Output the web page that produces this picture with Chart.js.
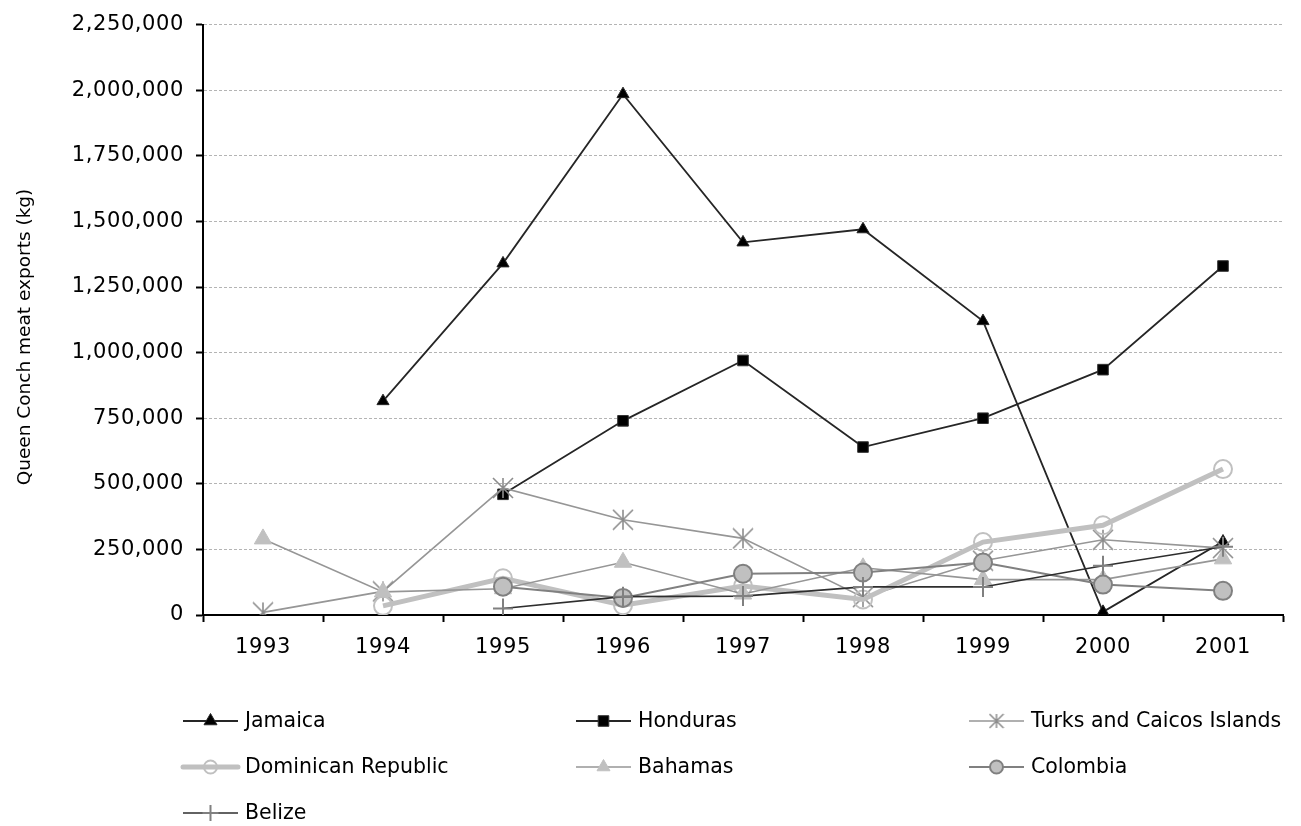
<!DOCTYPE html>
<html>
<head>
<meta charset="utf-8">
<title>Queen Conch meat exports</title>
<script src="https://cdn.jsdelivr.net/npm/chart.js@4/dist/chart.umd.min.js"></script>
<style>
  html, body { margin: 0; padding: 0; background: #ffffff; }
  #wrap { width: 1301px; height: 826px; position: relative; }
</style>
</head>
<body>
<div id="wrap"><canvas id="chart" width="1301" height="826"></canvas></div>
<script>
// Years on the category axis
const years = ['1993', '1994', '1995', '1996', '1997', '1998', '1999', '2000', '2001'];

// Exports by country, kg (null = no record that year)
const jamaica      = [null, 815000, 1340000, 1985000, 1420000, 1470000, 1120000, 12000, 280000];
const honduras     = [null, null, 460000, 740000, 970000, 640000, 750000, 935000, 1330000];
const turksCaicos  = [10000, 90000, 484000, 363000, 292000, 68000, 207000, 287000, 255000];
const dominicanRep = [null, 35000, 140000, 37000, 110000, 59000, 278000, 342000, 556000];
const bahamas      = [290000, 88000, 100000, 201000, 80000, 180000, 135000, 135000, 214000];
const colombia     = [null, null, 108000, 65000, 157000, 162000, 200000, 116000, 92000];
const belize       = [null, null, 25000, 70000, 72000, 107000, 107000, 188000, 260000];

// Value axis ticks
const yTicks = [0, 250000, 500000, 750000, 1000000, 1250000, 1500000, 1750000, 2000000, 2250000];

const FONT = '"DejaVu Sans", Verdana, sans-serif';

// Six-spoke asterisk marker
function makeAsterisk(size, color, lw) {
  const c = document.createElement('canvas');
  c.width = size; c.height = size;
  const g = c.getContext('2d');
  const m = size / 2, r = size / 2 - 1;
  g.strokeStyle = color; g.lineWidth = lw; g.lineCap = 'butt';
  g.beginPath();
  g.moveTo(m - r, m - r); g.lineTo(m + r, m + r);
  g.moveTo(m + r, m - r); g.lineTo(m - r, m + r);
  g.moveTo(m, m - r); g.lineTo(m, m + r);
  g.stroke();
  return c;
}
const asterisk = makeAsterisk(22, '#8c8c8c', 1.6);
const smallAsterisk = makeAsterisk(16, '#8c8c8c', 1.5);

const series = [
  { label: 'Jamaica', data: jamaica, borderColor: '#262626', borderWidth: 1.8,
    pointStyle: 'triangle', pointRadius: 7, pointBackgroundColor: '#000000', pointBorderColor: '#262626', pointBorderWidth: 1 },
  { label: 'Honduras', data: honduras, borderColor: '#262626', borderWidth: 1.8,
    pointStyle: 'rect', pointRadius: 7.5, pointBackgroundColor: '#000000', pointBorderColor: '#333333', pointBorderWidth: 1 },
  { label: 'Turks and Caicos Islands', data: turksCaicos, borderColor: '#969696', borderWidth: 1.6,
    pointStyle: asterisk, pointRadius: 10, pointBackgroundColor: '#8c8c8c', pointBorderColor: '#8c8c8c', pointBorderWidth: 1.6 },
  { label: 'Dominican Republic', data: dominicanRep, borderColor: '#c0c0c0', borderWidth: 5,
    pointStyle: 'circle', pointRadius: 9, pointBackgroundColor: 'rgba(0,0,0,0)', pointBorderColor: '#c0c0c0', pointBorderWidth: 2 },
  { label: 'Bahamas', data: bahamas, borderColor: '#969696', borderWidth: 1.6,
    pointStyle: 'triangle', pointRadius: 10, pointBackgroundColor: '#c0c0c0', pointBorderColor: '#c0c0c0', pointBorderWidth: 1 },
  { label: 'Colombia', data: colombia, borderColor: '#808080', borderWidth: 2,
    pointStyle: 'circle', pointRadius: 9, pointBackgroundColor: '#c0c0c0', pointBorderColor: '#808080', pointBorderWidth: 2 },
  { label: 'Belize', data: belize, borderColor: '#2e2e2e', borderWidth: 1.6,
    pointStyle: 'cross', pointRadius: 10, pointBackgroundColor: '#808080', pointBorderColor: '#808080', pointBorderWidth: 2 }
];

const datasets = series.map((s, i) => Object.assign({
  fill: false,
  tension: 0,
  spanGaps: false,
  order: series.length - 1 - i,   // later series are painted on top
  pointHoverRadius: s.pointRadius
}, s));

// Letter spacing for the axis tick labels only
const tickSpacing = {
  id: 'tickSpacing',
  beforeDraw(chart) { chart.ctx.letterSpacing = '0.6px'; },
  beforeDatasetsDraw(chart) { chart.ctx.letterSpacing = '0px'; }
};

// Rotated value-axis title
const axisTitle = {
  id: 'axisTitle',
  afterDraw(chart) {
    const ctx = chart.ctx;
    ctx.save();
    ctx.translate(25, 337);
    ctx.rotate(-Math.PI / 2);
    ctx.font = '18.5px ' + FONT;
    ctx.fillStyle = '#000000';
    ctx.textAlign = 'center';
    ctx.textBaseline = 'middle';
    ctx.fillText('Queen Conch meat exports (kg)', 0, 0);
    ctx.restore();
  }
};

// Marker painter for the legend swatches (slightly smaller than on the plot)
function drawMarker(ctx, ds, x, y) {
  const st = ds.pointStyle;
  const r = st === 'triangle' ? 7.5 : (st === 'rect' ? 7.5 : 6.5);
  ctx.save();
  ctx.lineWidth = ds.pointBorderWidth;
  ctx.strokeStyle = ds.pointBorderColor;
  ctx.fillStyle = ds.pointBackgroundColor;
  if (st instanceof HTMLCanvasElement) {
    ctx.drawImage(smallAsterisk, x - smallAsterisk.width / 2, y - smallAsterisk.height / 2);
  } else if (st === 'triangle') {
    ctx.beginPath();
    ctx.moveTo(x, y - r);
    ctx.lineTo(x + r * Math.sqrt(3) / 2, y + r / 2);
    ctx.lineTo(x - r * Math.sqrt(3) / 2, y + r / 2);
    ctx.closePath();
    ctx.fill(); ctx.stroke();
  } else if (st === 'rect') {
    const h = r / Math.SQRT2;
    ctx.beginPath();
    ctx.rect(x - h, y - h, 2 * h, 2 * h);
    ctx.fill(); ctx.stroke();
  } else if (st === 'circle') {
    ctx.beginPath();
    ctx.arc(x, y, r, 0, Math.PI * 2);
    ctx.fill(); ctx.stroke();
  } else if (st === 'cross') {
    ctx.beginPath();
    ctx.moveTo(x, y - 8); ctx.lineTo(x, y + 8);
    ctx.moveTo(x - 8, y); ctx.lineTo(x + 8, y);
    ctx.stroke();
  }
  ctx.restore();
}

// Three-column legend under the plot
const gridLegend = {
  id: 'gridLegend',
  afterDraw(chart) {
    const ctx = chart.ctx;
    const cols = [183, 576, 969];
    const rows = [721, 767, 813];
    const sample = 55;
    chart.data.datasets.forEach((ds, i) => {
      const x = cols[i % 3];
      const y = rows[Math.floor(i / 3)];
      ctx.save();
      ctx.strokeStyle = ds.borderColor;
      ctx.lineWidth = ds.borderWidth;
      ctx.lineCap = ds.borderWidth > 3 ? 'round' : 'butt';
      ctx.beginPath();
      ctx.moveTo(x, y); ctx.lineTo(x + sample, y);
      ctx.stroke();
      ctx.restore();
      drawMarker(ctx, ds, x + sample / 2, y);
      ctx.save();
      ctx.font = '20.5px ' + FONT;
      ctx.fillStyle = '#000000';
      ctx.textAlign = 'left';
      ctx.textBaseline = 'middle';
      ctx.fillText(ds.label, x + sample + 7, y + 1);
      ctx.restore();
    });
  }
};

new Chart(document.getElementById('chart'), {
  type: 'line',
  data: { labels: years, datasets },
  plugins: [tickSpacing, axisTitle, gridLegend],
  options: {
    responsive: false,
    animation: false,
    layout: { padding: { left: 0, right: 18, top: 19, bottom: 151 } },
    plugins: { legend: { display: false }, tooltip: { enabled: false } },
    scales: {
      x: {
        offset: true,
        grid: { display: true, offset: true, drawOnChartArea: false, drawTicks: true,
                tickLength: 7, tickColor: '#000000', tickWidth: 2 },
        border: { display: true, color: '#000000', width: 2 },
        ticks: { color: '#000000', padding: 13, maxRotation: 0, autoSkip: false,
                 font: { family: FONT, size: 21 } },
        afterFit(scale) { scale.height = 60; }
      },
      y: {
        min: yTicks[0],
        max: yTicks[yTicks.length - 1],
        afterBuildTicks(scale) { scale.ticks = yTicks.map(v => ({ value: v })); },
        grid: {
          color: ctx => (ctx.tick && ctx.tick.value === 0) ? 'rgba(0,0,0,0)' : '#b4b4b4',
          lineWidth: 1, drawTicks: true, tickLength: 7, tickColor: '#000000', tickWidth: 2
        },
        border: { display: true, color: '#000000', width: 2, dash: [3, 2] },
        ticks: { color: '#000000', padding: 12,
                 font: { family: FONT, size: 21 },
                 callback: v => Number(v).toLocaleString('en-US') },
        afterFit(scale) { scale.width = 203; }
      }
    }
  }
});
</script>
</body>
</html>
